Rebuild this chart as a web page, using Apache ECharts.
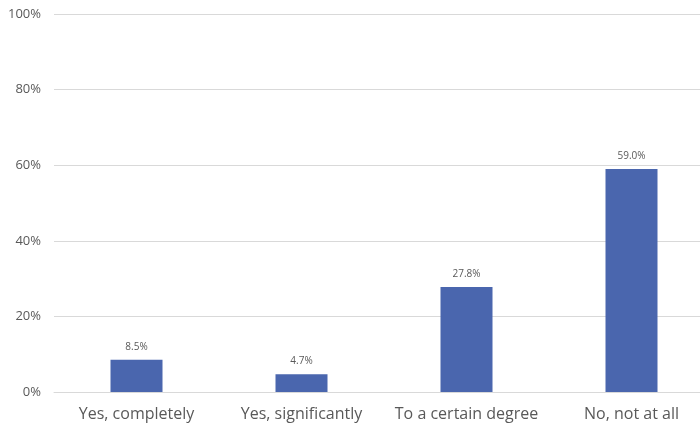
<!DOCTYPE html>
<html>
<head>
<meta charset="utf-8">
<script src="https://cdn.jsdelivr.net/npm/echarts@6/dist/echarts.min.js"></script>
<style>
  html, body { margin: 0; padding: 0; background: #fff; overflow: hidden; width: 700px; height: 429px; }
  /* the plot runs past the right edge of the page, so the canvas is a bit wider than the window */
  #chart { width: 714px; height: 429px; }
</style>
</head>
<body>
<div id="chart"></div>
<script>
// Survey answers and their shares (percent)
const categories = ['Yes, completely', 'Yes, significantly', 'To a certain degree', 'No, not at all'];
const shares = [8.5, 4.7, 27.8, 59.0];
const yTicks = [0, 20, 40, 60, 80, 100];

const chart = echarts.init(document.getElementById('chart'), null, { renderer: 'canvas' });
const font = '"Open Sans", "Noto Sans", sans-serif';

chart.setOption({
  animation: false,
  backgroundColor: '#ffffff',
  grid: { left: 54, top: 14, right: 0, bottom: 37, containLabel: false },
  xAxis: {
    type: 'category',
    data: categories,
    axisLine: { show: true, lineStyle: { color: '#d9d9d9', width: 1 } },
    axisTick: { show: false },
    axisLabel: { color: '#595959', fontSize: 16, fontFamily: font, margin: 14, interval: 0 }
  },
  yAxis: {
    type: 'value',
    min: yTicks[0],
    max: yTicks[yTicks.length - 1],
    interval: yTicks[1] - yTicks[0],
    axisLine: { show: false },
    axisTick: { show: false },
    splitLine: { lineStyle: { color: '#d9d9d9', width: 1 } },
    axisLabel: { color: '#595959', fontSize: 13, fontFamily: font, margin: 13, formatter: v => v + '%' }
  },
  series: [{
    type: 'bar',
    data: shares,
    barWidth: 52,
    itemStyle: { color: '#4a66ae' },
    label: {
      show: true,
      position: 'top',
      distance: 8,
      color: '#595959',
      fontSize: 10,
      fontFamily: font,
      formatter: p => p.value.toFixed(1) + '%'
    }
  }]
});
</script>
</body>
</html>
